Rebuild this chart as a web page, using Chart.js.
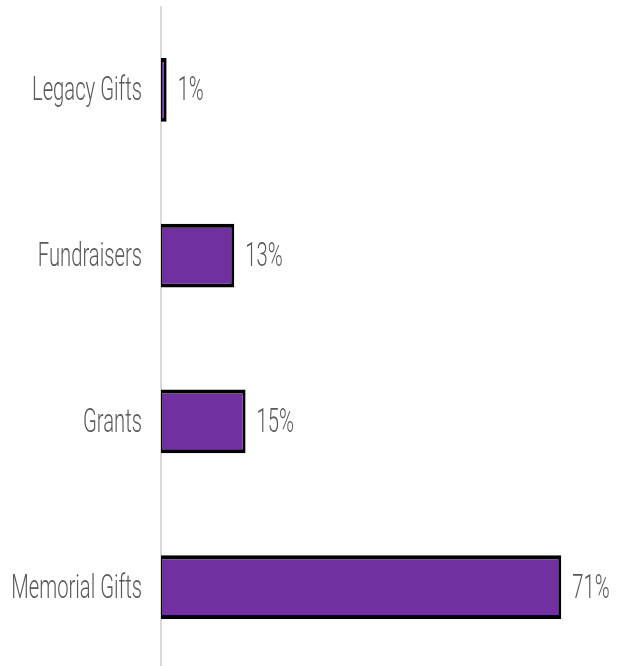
<!DOCTYPE html>
<html><head><meta charset="utf-8">
<script src="https://cdn.jsdelivr.net/npm/chart.js@4/dist/chart.umd.min.js"></script>
<style>html,body{margin:0;padding:0;background:#fff;overflow:hidden;height:666px;}canvas{display:block;}</style>
</head><body><canvas id="c" width="627" height="670" style="width:627px;height:670px"></canvas>
<script>
const categories = ["Legacy Gifts", "Fundraisers", "Grants", "Memorial Gifts"];
const values = [1, 13, 15, 71];
const valueLabels = ["1%", "13%", "15%", "71%"];

const FONT = "Roboto, 'DejaVu Sans', sans-serif";
const SX = 0.595;

function drawSqueezed(ctx, text, x, y, align) {
  ctx.save();
  ctx.translate(x, y);
  ctx.scale(SX, 1);
  ctx.textAlign = align;
  ctx.fillText(text, 0, 0);
  ctx.restore();
}

const labelPlugin = {
  id: 'valLabels',
  afterDraw(chart) {
    const ctx = chart.ctx;
    const meta = chart.getDatasetMeta(0);
    const yScale = chart.scales.y;
    ctx.save();
    ctx.font = "300 34px " + FONT;
    ctx.fillStyle = "#595959";
    ctx.textBaseline = "middle";
    meta.data.forEach((bar, i) => {
      drawSqueezed(ctx, valueLabels[i], bar.x + 11, bar.y + 2, 'left');
    });
    categories.forEach((c, i) => {
      drawSqueezed(ctx, c, yScale.left - 19, yScale.getPixelForTick(i) + 2, 'right');
    });
    ctx.restore();
  }
};

new Chart(document.getElementById('c'), {
  type: 'bar',
  data: {
    labels: categories,
    datasets: [{
      data: values,
      backgroundColor: '#7030A0',
      borderColor: '#000000',
      borderWidth: { top: 4, bottom: 4, left: 1, right: 3 },
      borderSkipped: false,
      barPercentage: 0.386,
      categoryPercentage: 1
    }]
  },
  options: {
    indexAxis: 'y',
    responsive: false,
    animation: false,
    devicePixelRatio: 1,
    layout: { padding: { top: 7, bottom: 0, left: 161, right: 15 } },
    plugins: { legend: { display: false }, tooltip: { enabled: false } },
    scales: {
      x: { display: false, min: 0, max: 80 },
      y: {
        grid: { display: false, drawTicks: false },
        border: { display: true, color: '#d9d9d9', width: 2 },
        ticks: { display: false }
      }
    }
  },
  plugins: [labelPlugin]
});
</script></body></html>
